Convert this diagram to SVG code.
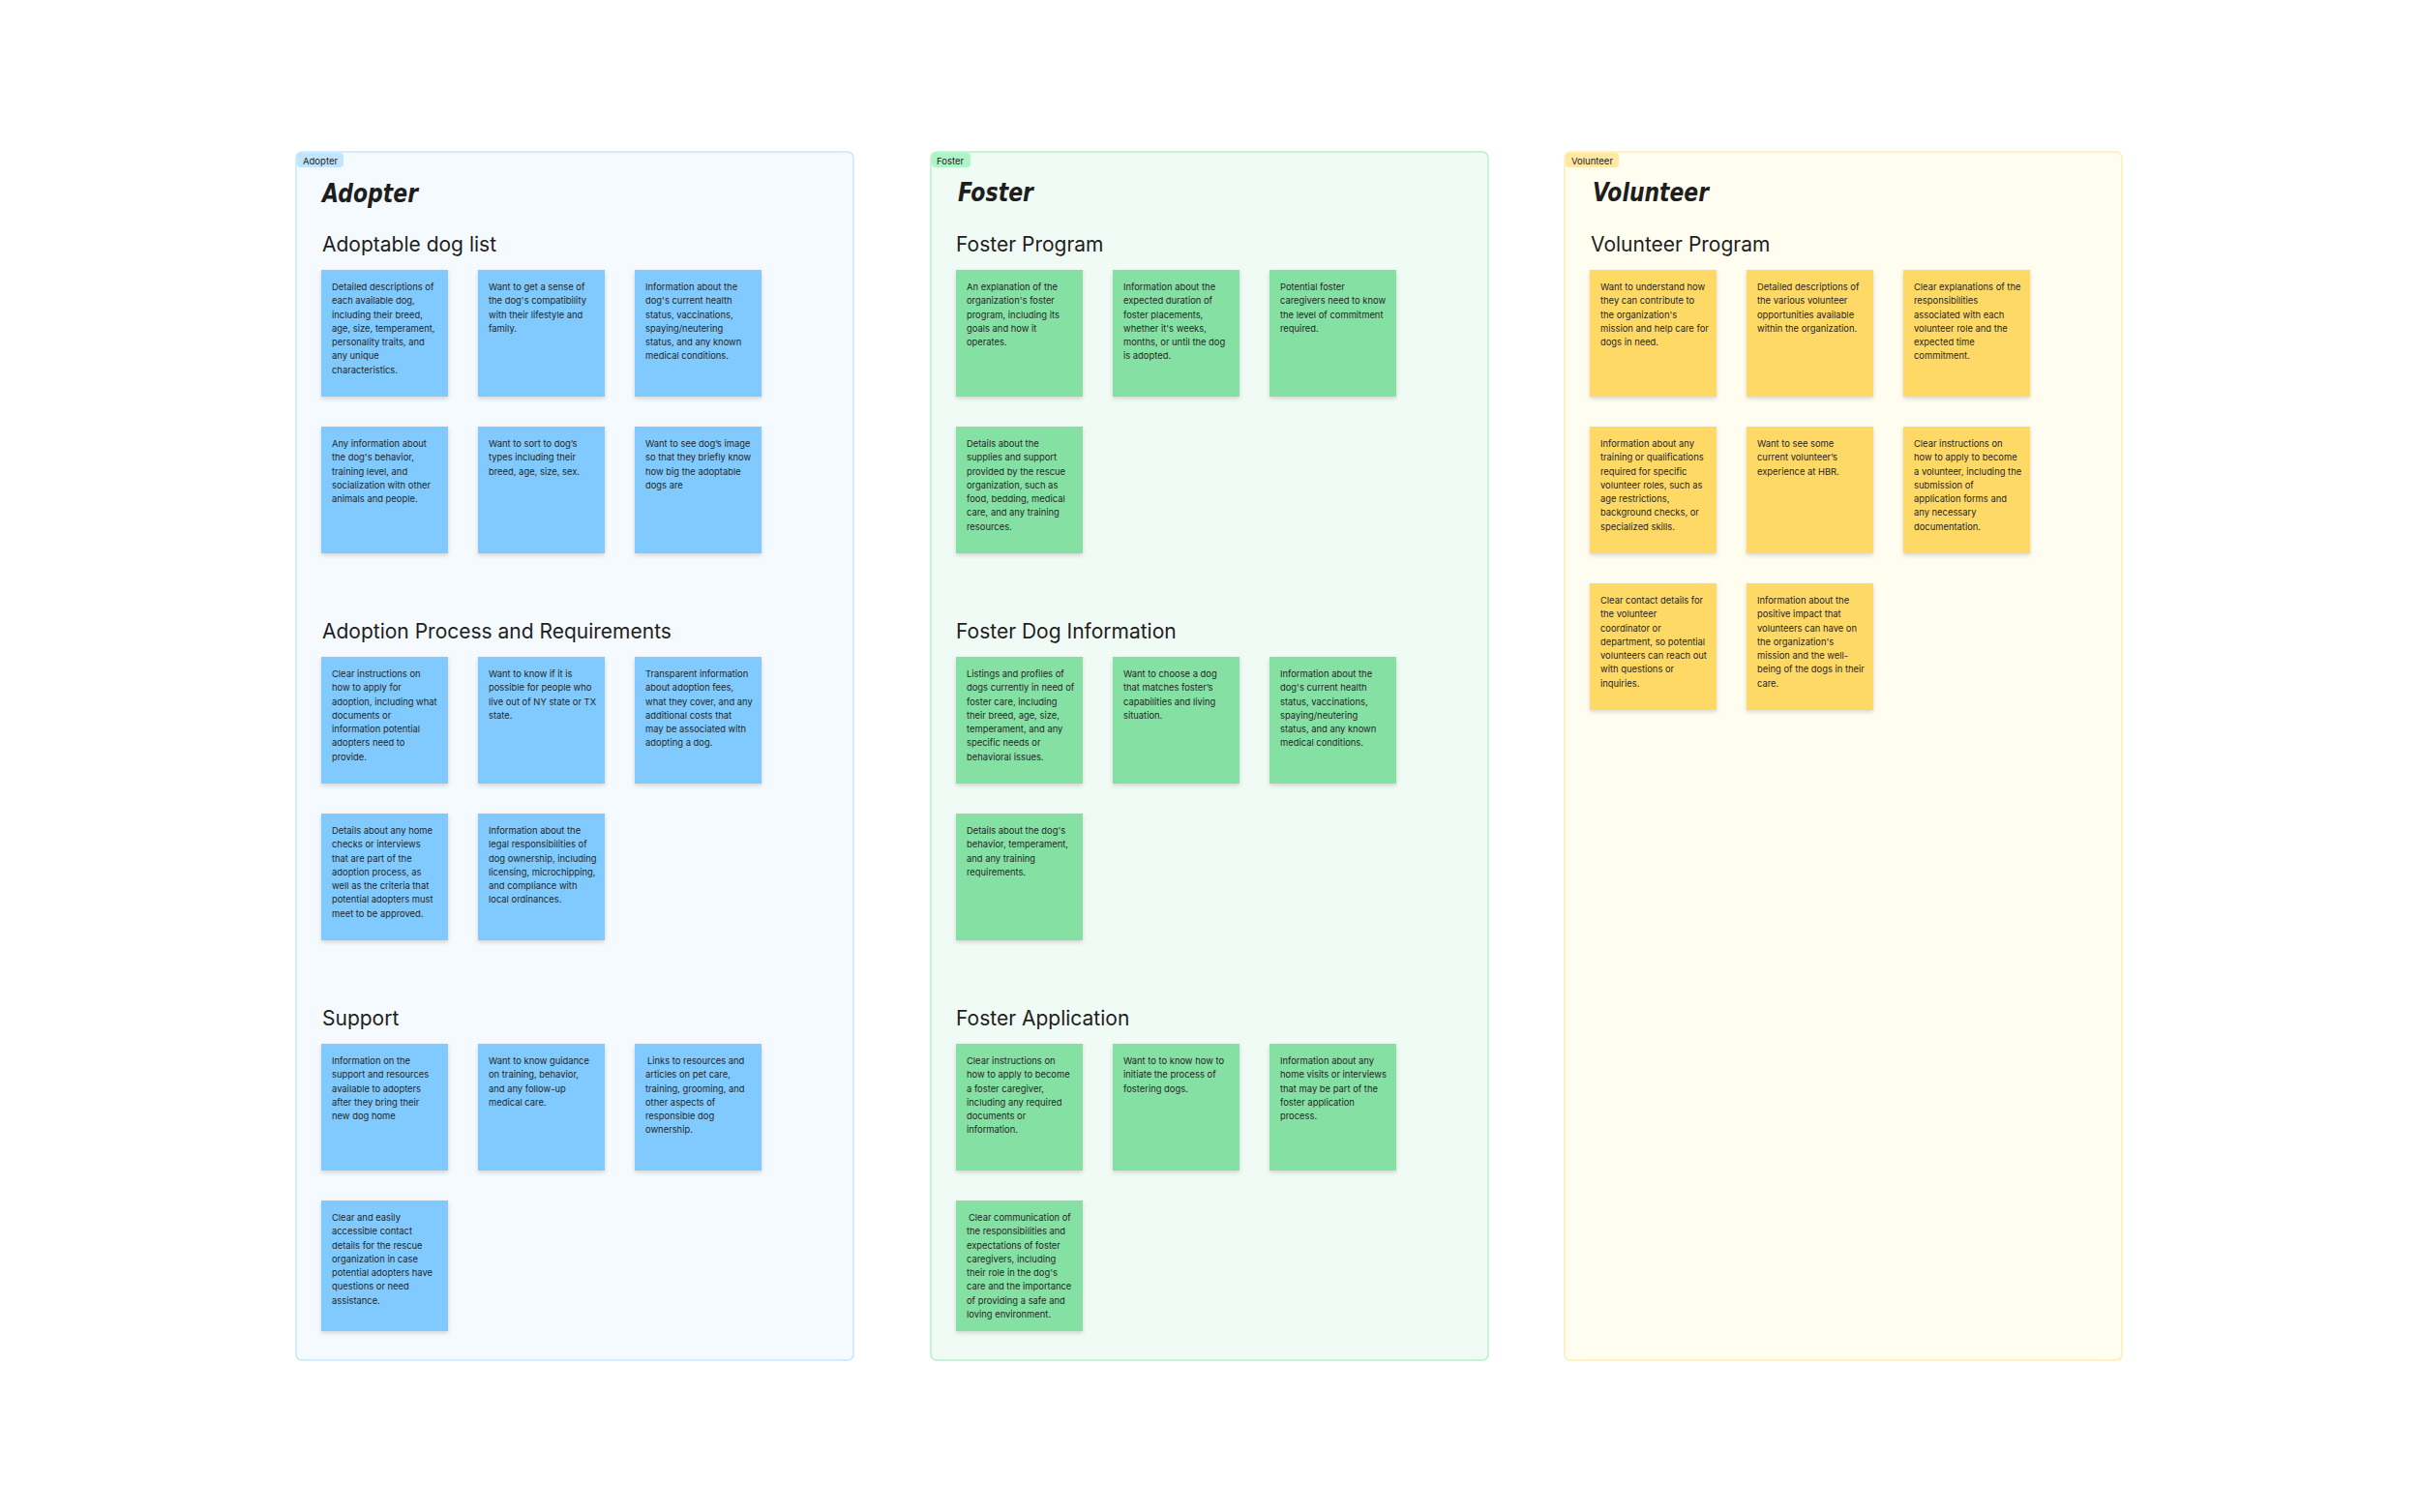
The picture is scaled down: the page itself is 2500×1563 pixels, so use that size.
<svg xmlns="http://www.w3.org/2000/svg" width="2500" height="1563" viewBox="0 0 2500 1563">
<style>
.bgA{fill:#F5FAFF;stroke:#C7E6FF;stroke-width:1.5}
.bgF{fill:#F1FBF5;stroke:#B8EFCB;stroke-width:1.5}
.bgV{fill:#FFFCF0;stroke:#FFEDB5;stroke-width:1.5}
.tagA{fill:#C2E5FF}
.tagF{fill:#AFF4C6}
.tagV{fill:#FFE8A3}
.tag{font-family:Inter,"Noto Sans",sans-serif;font-size:9.5px;fill:#1E1E1E}
.hand{font-family:"DejaVu Sans",sans-serif;font-style:italic;font-weight:bold;font-size:26px;fill:#1E1E1E}
.h{font-family:Inter,"Noto Sans",sans-serif;font-size:21px;fill:#1E1E1E}
.nA{fill:#80CAFF}
.nF{fill:#85E0A3}
.nV{fill:#FFD966}
.t{font-family:Inter,"Noto Sans",sans-serif;font-size:9.4px;fill:#262626}
</style>
<defs>
<filter id="sh" x="-10%" y="-10%" width="120%" height="125%">
<feDropShadow dx="0" dy="2" stdDeviation="2" flood-color="#000" flood-opacity="0.15"/>
</filter>
</defs>
<rect width="2500" height="1563" fill="#FFFFFF"/>

<!-- Adopter section -->
<g id="section-adopter">
<rect class="bgA" x="306" y="157" width="576" height="1249" rx="6"/>
<rect class="tagA" x="307" y="158" width="48" height="15" rx="4"/>
<text class="tag" x="313" y="169.5">Adopter</text>
<text class="hand" x="333" y="209" textLength="99" lengthAdjust="spacingAndGlyphs">Adopter</text>
<text class="h" x="333" y="260">Adoptable dog list</text>
<text class="h" x="333" y="660">Adoption Process and Requirements</text>
<text class="h" x="333" y="1060">Support</text>
</g>

<g id="a1"><rect class="nA" filter="url(#sh)" x="332" y="279" width="131" height="131"/>
<text class="t" y="300"><tspan x="343">Detailed descriptions of</tspan><tspan x="343" dy="14.25">each available dog,</tspan><tspan x="343" dy="14.25">including their breed,</tspan><tspan x="343" dy="14.25">age, size, temperament,</tspan><tspan x="343" dy="14.25">personality traits, and</tspan><tspan x="343" dy="14.25">any unique</tspan><tspan x="343" dy="14.25">characteristics.</tspan></text></g>
<g id="a2"><rect class="nA" filter="url(#sh)" x="494" y="279" width="131" height="131"/>
<text class="t" y="300"><tspan x="505">Want to get a sense of</tspan><tspan x="505" dy="14.25">the dog's compatibility</tspan><tspan x="505" dy="14.25">with their lifestyle and</tspan><tspan x="505" dy="14.25">family.</tspan></text></g>
<g id="a3"><rect class="nA" filter="url(#sh)" x="656" y="279" width="131" height="131"/>
<text class="t" y="300"><tspan x="667">Information about the</tspan><tspan x="667" dy="14.25">dog's current health</tspan><tspan x="667" dy="14.25">status, vaccinations,</tspan><tspan x="667" dy="14.25">spaying/neutering</tspan><tspan x="667" dy="14.25">status, and any known</tspan><tspan x="667" dy="14.25">medical conditions.</tspan></text></g>
<g id="a4"><rect class="nA" filter="url(#sh)" x="332" y="441" width="131" height="131"/>
<text class="t" y="462"><tspan x="343">Any information about</tspan><tspan x="343" dy="14.25">the dog's behavior,</tspan><tspan x="343" dy="14.25">training level, and</tspan><tspan x="343" dy="14.25">socialization with other</tspan><tspan x="343" dy="14.25">animals and people.</tspan></text></g>
<g id="a5"><rect class="nA" filter="url(#sh)" x="494" y="441" width="131" height="131"/>
<text class="t" y="462"><tspan x="505">Want to sort to dog’s</tspan><tspan x="505" dy="14.25">types including their</tspan><tspan x="505" dy="14.25">breed, age, size, sex.</tspan></text></g>
<g id="a6"><rect class="nA" filter="url(#sh)" x="656" y="441" width="131" height="131"/>
<text class="t" y="462"><tspan x="667">Want to see dog’s image</tspan><tspan x="667" dy="14.25">so that they briefly know</tspan><tspan x="667" dy="14.25">how big the adoptable</tspan><tspan x="667" dy="14.25">dogs are</tspan></text></g>

<g id="a7"><rect class="nA" filter="url(#sh)" x="332" y="679" width="131" height="131"/>
<text class="t" y="700"><tspan x="343">Clear instructions on</tspan><tspan x="343" dy="14.25">how to apply for</tspan><tspan x="343" dy="14.25">adoption, including what</tspan><tspan x="343" dy="14.25">documents or</tspan><tspan x="343" dy="14.25">information potential</tspan><tspan x="343" dy="14.25">adopters need to</tspan><tspan x="343" dy="14.25">provide.</tspan></text></g>
<g id="a8"><rect class="nA" filter="url(#sh)" x="494" y="679" width="131" height="131"/>
<text class="t" y="700"><tspan x="505">Want to know if it is</tspan><tspan x="505" dy="14.25">possible for people who</tspan><tspan x="505" dy="14.25">live out of NY state or TX</tspan><tspan x="505" dy="14.25">state.</tspan></text></g>
<g id="a9"><rect class="nA" filter="url(#sh)" x="656" y="679" width="131" height="131"/>
<text class="t" y="700"><tspan x="667">Transparent information</tspan><tspan x="667" dy="14.25">about adoption fees,</tspan><tspan x="667" dy="14.25">what they cover, and any</tspan><tspan x="667" dy="14.25">additional costs that</tspan><tspan x="667" dy="14.25">may be associated with</tspan><tspan x="667" dy="14.25">adopting a dog.</tspan></text></g>
<g id="a10"><rect class="nA" filter="url(#sh)" x="332" y="841" width="131" height="131"/>
<text class="t" y="862"><tspan x="343">Details about any home</tspan><tspan x="343" dy="14.25">checks or interviews</tspan><tspan x="343" dy="14.25">that are part of the</tspan><tspan x="343" dy="14.25">adoption process, as</tspan><tspan x="343" dy="14.25">well as the criteria that</tspan><tspan x="343" dy="14.25">potential adopters must</tspan><tspan x="343" dy="14.25">meet to be approved.</tspan></text></g>
<g id="a11"><rect class="nA" filter="url(#sh)" x="494" y="841" width="131" height="131"/>
<text class="t" y="862"><tspan x="505">Information about the</tspan><tspan x="505" dy="14.25">legal responsibilities of</tspan><tspan x="505" dy="14.25">dog ownership, including</tspan><tspan x="505" dy="14.25">licensing, microchipping,</tspan><tspan x="505" dy="14.25">and compliance with</tspan><tspan x="505" dy="14.25">local ordinances.</tspan></text></g>

<g id="a12"><rect class="nA" filter="url(#sh)" x="332" y="1079" width="131" height="131"/>
<text class="t" y="1100"><tspan x="343">Information on the</tspan><tspan x="343" dy="14.25">support and resources</tspan><tspan x="343" dy="14.25">available to adopters</tspan><tspan x="343" dy="14.25">after they bring their</tspan><tspan x="343" dy="14.25">new dog home</tspan></text></g>
<g id="a13"><rect class="nA" filter="url(#sh)" x="494" y="1079" width="131" height="131"/>
<text class="t" y="1100"><tspan x="505">Want to know guidance</tspan><tspan x="505" dy="14.25">on training, behavior,</tspan><tspan x="505" dy="14.25">and any follow-up</tspan><tspan x="505" dy="14.25">medical care.</tspan></text></g>
<g id="a14"><rect class="nA" filter="url(#sh)" x="656" y="1079" width="131" height="131"/>
<text class="t" y="1100"><tspan x="669">Links to resources and</tspan><tspan x="667" dy="14.25">articles on pet care,</tspan><tspan x="667" dy="14.25">training, grooming, and</tspan><tspan x="667" dy="14.25">other aspects of</tspan><tspan x="667" dy="14.25">responsible dog</tspan><tspan x="667" dy="14.25">ownership.</tspan></text></g>
<g id="a15"><rect class="nA" filter="url(#sh)" x="332" y="1241" width="131" height="135"/>
<text class="t" y="1262"><tspan x="343">Clear and easily</tspan><tspan x="343" dy="14.25">accessible contact</tspan><tspan x="343" dy="14.25">details for the rescue</tspan><tspan x="343" dy="14.25">organization in case</tspan><tspan x="343" dy="14.25">potential adopters have</tspan><tspan x="343" dy="14.25">questions or need</tspan><tspan x="343" dy="14.25">assistance.</tspan></text></g>

<!-- Foster section -->
<g id="section-foster">
<rect class="bgF" x="962" y="157" width="576" height="1249" rx="6"/>
<rect class="tagF" x="963" y="158" width="40" height="15" rx="4"/>
<text class="tag" x="968" y="169.5">Foster</text>
<text class="hand" x="990" y="208" textLength="78" lengthAdjust="spacingAndGlyphs">Foster</text>
<text class="h" x="988" y="260">Foster Program</text>
<text class="h" x="988" y="660">Foster Dog Information</text>
<text class="h" x="988" y="1060">Foster Application</text>
</g>

<g id="f1"><rect class="nF" filter="url(#sh)" x="988" y="279" width="131" height="131"/>
<text class="t" y="300"><tspan x="999">An explanation of the</tspan><tspan x="999" dy="14.25">organization's foster</tspan><tspan x="999" dy="14.25">program, including its</tspan><tspan x="999" dy="14.25">goals and how it</tspan><tspan x="999" dy="14.25">operates.</tspan></text></g>
<g id="f2"><rect class="nF" filter="url(#sh)" x="1150" y="279" width="131" height="131"/>
<text class="t" y="300"><tspan x="1161">Information about the</tspan><tspan x="1161" dy="14.25">expected duration of</tspan><tspan x="1161" dy="14.25">foster placements,</tspan><tspan x="1161" dy="14.25">whether it's weeks,</tspan><tspan x="1161" dy="14.25">months, or until the dog</tspan><tspan x="1161" dy="14.25">is adopted.</tspan></text></g>
<g id="f3"><rect class="nF" filter="url(#sh)" x="1312" y="279" width="131" height="131"/>
<text class="t" y="300"><tspan x="1323">Potential foster</tspan><tspan x="1323" dy="14.25">caregivers need to know</tspan><tspan x="1323" dy="14.25">the level of commitment</tspan><tspan x="1323" dy="14.25">required.</tspan></text></g>
<g id="f4"><rect class="nF" filter="url(#sh)" x="988" y="441" width="131" height="131"/>
<text class="t" y="462"><tspan x="999">Details about the</tspan><tspan x="999" dy="14.25">supplies and support</tspan><tspan x="999" dy="14.25">provided by the rescue</tspan><tspan x="999" dy="14.25">organization, such as</tspan><tspan x="999" dy="14.25">food, bedding, medical</tspan><tspan x="999" dy="14.25">care, and any training</tspan><tspan x="999" dy="14.25">resources.</tspan></text></g>

<g id="f5"><rect class="nF" filter="url(#sh)" x="988" y="679" width="131" height="131"/>
<text class="t" y="700"><tspan x="999">Listings and profiles of</tspan><tspan x="999" dy="14.25">dogs currently in need of</tspan><tspan x="999" dy="14.25">foster care, including</tspan><tspan x="999" dy="14.25">their breed, age, size,</tspan><tspan x="999" dy="14.25">temperament, and any</tspan><tspan x="999" dy="14.25">specific needs or</tspan><tspan x="999" dy="14.25">behavioral issues.</tspan></text></g>
<g id="f6"><rect class="nF" filter="url(#sh)" x="1150" y="679" width="131" height="131"/>
<text class="t" y="700"><tspan x="1161">Want to choose a dog</tspan><tspan x="1161" dy="14.25">that matches foster’s</tspan><tspan x="1161" dy="14.25">capabilities and living</tspan><tspan x="1161" dy="14.25">situation.</tspan></text></g>
<g id="f7"><rect class="nF" filter="url(#sh)" x="1312" y="679" width="131" height="131"/>
<text class="t" y="700"><tspan x="1323">Information about the</tspan><tspan x="1323" dy="14.25">dog's current health</tspan><tspan x="1323" dy="14.25">status, vaccinations,</tspan><tspan x="1323" dy="14.25">spaying/neutering</tspan><tspan x="1323" dy="14.25">status, and any known</tspan><tspan x="1323" dy="14.25">medical conditions.</tspan></text></g>
<g id="f8"><rect class="nF" filter="url(#sh)" x="988" y="841" width="131" height="131"/>
<text class="t" y="862"><tspan x="999">Details about the dog's</tspan><tspan x="999" dy="14.25">behavior, temperament,</tspan><tspan x="999" dy="14.25">and any training</tspan><tspan x="999" dy="14.25">requirements.</tspan></text></g>

<g id="f9"><rect class="nF" filter="url(#sh)" x="988" y="1079" width="131" height="131"/>
<text class="t" y="1100"><tspan x="999">Clear instructions on</tspan><tspan x="999" dy="14.25">how to apply to become</tspan><tspan x="999" dy="14.25">a foster caregiver,</tspan><tspan x="999" dy="14.25">including any required</tspan><tspan x="999" dy="14.25">documents or</tspan><tspan x="999" dy="14.25">information.</tspan></text></g>
<g id="f10"><rect class="nF" filter="url(#sh)" x="1150" y="1079" width="131" height="131"/>
<text class="t" y="1100"><tspan x="1161">Want to to know how to</tspan><tspan x="1161" dy="14.25">initiate the process of</tspan><tspan x="1161" dy="14.25">fostering dogs.</tspan></text></g>
<g id="f11"><rect class="nF" filter="url(#sh)" x="1312" y="1079" width="131" height="131"/>
<text class="t" y="1100"><tspan x="1323">Information about any</tspan><tspan x="1323" dy="14.25">home visits or interviews</tspan><tspan x="1323" dy="14.25">that may be part of the</tspan><tspan x="1323" dy="14.25">foster application</tspan><tspan x="1323" dy="14.25">process.</tspan></text></g>
<g id="f12"><rect class="nF" filter="url(#sh)" x="988" y="1241" width="131" height="135"/>
<text class="t" y="1262"><tspan x="1001">Clear communication of</tspan><tspan x="999" dy="14.25">the responsibilities and</tspan><tspan x="999" dy="14.25">expectations of foster</tspan><tspan x="999" dy="14.25">caregivers, including</tspan><tspan x="999" dy="14.25">their role in the dog's</tspan><tspan x="999" dy="14.25">care and the importance</tspan><tspan x="999" dy="14.25">of providing a safe and</tspan><tspan x="999" dy="14.25">loving environment.</tspan></text></g>

<!-- Volunteer section -->
<g id="section-volunteer">
<rect class="bgV" x="1617" y="157" width="576" height="1249" rx="6"/>
<rect class="tagV" x="1618" y="158" width="55" height="15" rx="4"/>
<text class="tag" x="1624" y="169.5">Volunteer</text>
<text class="hand" x="1646" y="208" textLength="120" lengthAdjust="spacingAndGlyphs">Volunteer</text>
<text class="h" x="1644" y="260">Volunteer Program</text>
</g>

<g id="v1"><rect class="nV" filter="url(#sh)" x="1643" y="279" width="131" height="131"/>
<text class="t" y="300"><tspan x="1654">Want to understand how</tspan><tspan x="1654" dy="14.25">they can contribute to</tspan><tspan x="1654" dy="14.25">the organization's</tspan><tspan x="1654" dy="14.25">mission and help care for</tspan><tspan x="1654" dy="14.25">dogs in need.</tspan></text></g>
<g id="v2"><rect class="nV" filter="url(#sh)" x="1805" y="279" width="131" height="131"/>
<text class="t" y="300"><tspan x="1816">Detailed descriptions of</tspan><tspan x="1816" dy="14.25">the various volunteer</tspan><tspan x="1816" dy="14.25">opportunities available</tspan><tspan x="1816" dy="14.25">within the organization.</tspan></text></g>
<g id="v3"><rect class="nV" filter="url(#sh)" x="1967" y="279" width="131" height="131"/>
<text class="t" y="300"><tspan x="1978">Clear explanations of the</tspan><tspan x="1978" dy="14.25">responsibilities</tspan><tspan x="1978" dy="14.25">associated with each</tspan><tspan x="1978" dy="14.25">volunteer role and the</tspan><tspan x="1978" dy="14.25">expected time</tspan><tspan x="1978" dy="14.25">commitment.</tspan></text></g>
<g id="v4"><rect class="nV" filter="url(#sh)" x="1643" y="441" width="131" height="131"/>
<text class="t" y="462"><tspan x="1654">Information about any</tspan><tspan x="1654" dy="14.25">training or qualifications</tspan><tspan x="1654" dy="14.25">required for specific</tspan><tspan x="1654" dy="14.25">volunteer roles, such as</tspan><tspan x="1654" dy="14.25">age restrictions,</tspan><tspan x="1654" dy="14.25">background checks, or</tspan><tspan x="1654" dy="14.25">specialized skills.</tspan></text></g>
<g id="v5"><rect class="nV" filter="url(#sh)" x="1805" y="441" width="131" height="131"/>
<text class="t" y="462"><tspan x="1816">Want to see some</tspan><tspan x="1816" dy="14.25">current volunteer’s</tspan><tspan x="1816" dy="14.25">experience at HBR.</tspan></text></g>
<g id="v6"><rect class="nV" filter="url(#sh)" x="1967" y="441" width="131" height="131"/>
<text class="t" y="462"><tspan x="1978">Clear instructions on</tspan><tspan x="1978" dy="14.25">how to apply to become</tspan><tspan x="1978" dy="14.25">a volunteer, including the</tspan><tspan x="1978" dy="14.25">submission of</tspan><tspan x="1978" dy="14.25">application forms and</tspan><tspan x="1978" dy="14.25">any necessary</tspan><tspan x="1978" dy="14.25">documentation.</tspan></text></g>
<g id="v7"><rect class="nV" filter="url(#sh)" x="1643" y="603" width="131" height="131"/>
<text class="t" y="624"><tspan x="1654">Clear contact details for</tspan><tspan x="1654" dy="14.25">the volunteer</tspan><tspan x="1654" dy="14.25">coordinator or</tspan><tspan x="1654" dy="14.25">department, so potential</tspan><tspan x="1654" dy="14.25">volunteers can reach out</tspan><tspan x="1654" dy="14.25">with questions or</tspan><tspan x="1654" dy="14.25">inquiries.</tspan></text></g>
<g id="v8"><rect class="nV" filter="url(#sh)" x="1805" y="603" width="131" height="131"/>
<text class="t" y="624"><tspan x="1816">Information about the</tspan><tspan x="1816" dy="14.25">positive impact that</tspan><tspan x="1816" dy="14.25">volunteers can have on</tspan><tspan x="1816" dy="14.25">the organization's</tspan><tspan x="1816" dy="14.25">mission and the well-</tspan><tspan x="1816" dy="14.25">being of the dogs in their</tspan><tspan x="1816" dy="14.25">care.</tspan></text></g>

<g id="connectors"></g>
</svg>
